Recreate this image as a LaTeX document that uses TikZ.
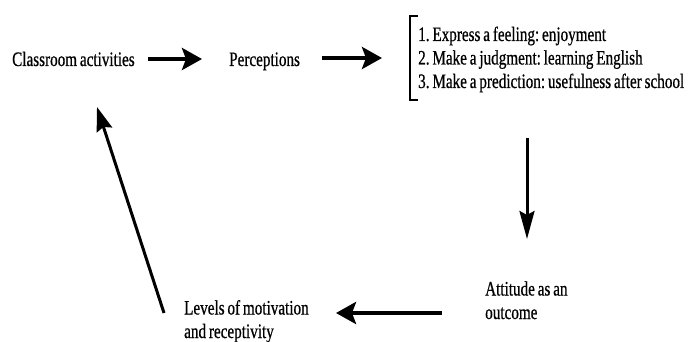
\documentclass[tikz,border=0pt]{standalone}
\usepackage{fontspec}
\setmainfont{Liberation Serif}[FakeStretch=0.74,FakeBold=0.6,WordSpace=0.75]
\usetikzlibrary{arrows.meta}
\frenchspacing
\begin{document}
\begin{tikzpicture}[x=1pt,y=-1pt,
  lbl/.style={inner sep=0pt, anchor=base west, font=\fontsize{20.5}{23.5}\selectfont\frenchspacing, align=left},
  fat/.style={line width=4.5pt, -{Stealth[length=20pt,width=22pt,inset=4pt]}},
  slim/.style={line width=3pt, -{Stealth[length=28pt,width=15pt,inset=4pt]}}]
\useasboundingbox (0,0) rectangle (694,342);
% texts
\node[lbl] (cls) at (12,66) {Classroom activities};
\node[lbl] (per) at (229,66) {Perceptions};
\node[lbl] (l1) at (418,41) {1. Express a feeling: enjoyment};
\node[lbl] (l2) at (418,64.5) {2. Make a judgment: learning English};
\node[lbl] (l3) at (418,88) {3. Make a prediction: usefulness after school};
\node[lbl] (att) at (485,319) {Attitude as an\\outcome};
\node[lbl] (lev) at (184,338) {Levels of motivation\\and receptivity};
% bracket
\draw[line width=2pt] (418,16) -- (410,16) -- (410,100) -- (418,100);
% arrow end points
\coordinate (a1s) at (148,59);  \coordinate (a1e) at (202,59);
\coordinate (a2s) at (322,58);  \coordinate (a2e) at (382,58);
\coordinate (a3s) at (527,138); \coordinate (a3e) at (527,239);
\coordinate (a4s) at (442,313); \coordinate (a4e) at (336,313);
\coordinate (a5s) at (164,313); \coordinate (a5e) at (97,107);
\draw[fat] (a1s) -- (a1e);
\draw[fat] (a2s) -- (a2e);
\draw[slim] (a3s) -- (a3e);
\draw[fat] (a4s) -- (a4e);
\draw[slim,-{Stealth[length=24pt,width=16pt,inset=3pt]}] (a5s) -- (a5e);
\end{tikzpicture}
\end{document}
